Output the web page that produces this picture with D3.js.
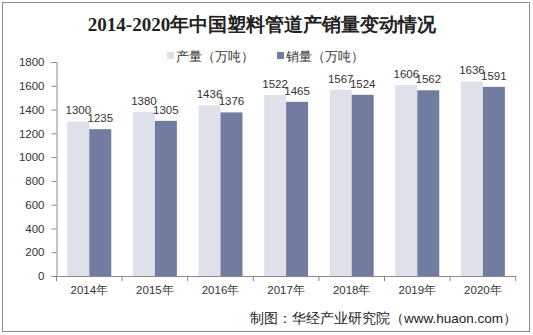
<!DOCTYPE html>
<html><head><meta charset="utf-8">
<script src="https://cdnjs.cloudflare.com/ajax/libs/d3/7.8.5/d3.min.js"></script>
<style>body{margin:0;background:#fff}svg{display:block}</style>
</head><body><div id="c"></div>
<script>
const years = ["2014年","2015年","2016年","2017年","2018年","2019年","2020年"];
const production = [1300,1380,1436,1522,1567,1606,1636];
const sales = [1235,1305,1376,1465,1524,1562,1591];
const seriesNames = ["产量（万吨）","销量（万吨）"];
const colors = ["#dee1ea","#727ca0"];
const yTicks = [0,200,400,600,800,1000,1200,1400,1600,1800];

const W = 533, H = 335;
const svg = d3.select("#c").append("svg").attr("width",W).attr("height",H);
const font = "'Liberation Sans', Arial, sans-serif";

svg.append("rect").attr("x",2.5).attr("y",2.5).attr("width",527).attr("height",329)
  .attr("fill","#fff").attr("stroke","#8c8c8c").attr("stroke-width",1);

svg.append("text").attr("x",262).attr("y",31).attr("text-anchor","middle")
  .attr("font-family","'Liberation Serif', 'Times New Roman', serif").attr("font-weight","bold")
  .attr("font-size",19).attr("fill","#222").text("2014-2020年中国塑料管道产销量变动情况");

const x = d3.scaleBand().domain(years).range([56.5,515.7]).paddingInner(0.33).paddingOuter(0.165);
const x0 = d3.scaleBand().domain(years).range([56.5,515.7]);
const x1 = d3.scaleBand().domain([0,1]).range([0,x.bandwidth()]);
const y = d3.scaleLinear().domain([0,1800]).range([276,62]);

const data = years.map((yr,i)=>({yr, vals:[production[i],sales[i]]}));

const g = svg.append("g");
const groups = g.selectAll("g.grp").data(data).join("g").attr("transform",d=>`translate(${x(d.yr)},0)`);
groups.selectAll("rect").data(d=>d.vals).join("rect")
  .attr("x",(v,j)=>x1(j)).attr("width",x1.bandwidth())
  .attr("y",v=>y(v)).attr("height",v=>y(0)-y(v)).attr("fill",(v,j)=>colors[j]);
groups.selectAll("text").data(d=>d.vals).join("text")
  .attr("x",(v,j)=>x1(j)+x1.bandwidth()/2).attr("y",v=>y(v)-7)
  .attr("text-anchor","middle").attr("font-family",font).attr("font-size",11.5).attr("fill","#333")
  .text(v=>v);

// y axis
const ya = svg.append("g").attr("transform","translate(56.5,0)")
  .call(d3.axisLeft(y).tickValues(yTicks).tickSize(5).tickPadding(7).tickFormat(d3.format("d")));
ya.select(".domain").attr("stroke","#888");
ya.selectAll(".tick line").attr("stroke","#888");
ya.selectAll("text").attr("font-family",font).attr("font-size",11.5).attr("fill","#333");

// x axis
const xa = svg.append("g").attr("transform",`translate(0,${y(0)})`)
  .call(d3.axisBottom(x0).tickSize(0).tickPadding(10));
xa.select(".domain").attr("stroke","#888");
xa.selectAll("text").attr("font-family",font).attr("font-size",11.5).attr("fill","#333");
xa.selectAll("line.sep").data(d3.range(years.length+1)).join("line").attr("class","sep")
  .attr("x1",i=>56.5+i*x0.step()).attr("x2",i=>56.5+i*x0.step())
  .attr("y1",0).attr("y2",5).attr("stroke","#888");

// legend
const leg = svg.append("g");
const legX = [167,277];
seriesNames.forEach((n,i)=>{
  leg.append("rect").attr("x",legX[i]).attr("y",52).attr("width",7).attr("height",7).attr("fill",colors[i]);
  leg.append("text").attr("x",legX[i]+9).attr("y",61).attr("font-family",font)
    .attr("font-size",13).attr("fill","#333").text(n);
});

// footer
svg.append("text").attr("x",517).attr("y",323).attr("text-anchor","end")
  .attr("font-family",font).attr("font-size",13.5).attr("fill","#222")
  .text("制图：华经产业研究院（www.huaon.com）");
</script></body></html>
